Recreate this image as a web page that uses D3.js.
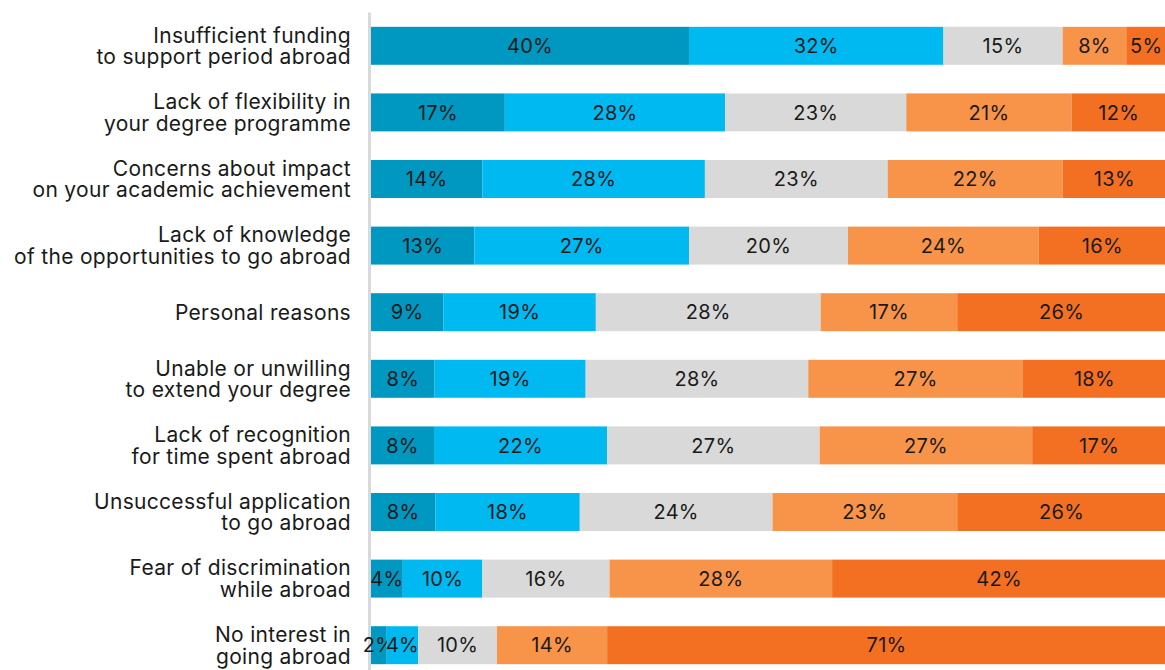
<!DOCTYPE html>
<html>
<head>
<meta charset="utf-8">
<script src="https://cdn.jsdelivr.net/npm/d3@7"></script>
<style>
  body { margin: 0; background: #fff; }
  svg { display: block; font-family: Inter, "Noto Sans", sans-serif; }
</style>
</head>
<body>
<div id="chart"></div>
<script>
// categories (two-line labels)
const categories = [
  ["Insufficient funding", "to support period abroad"],
  ["Lack of flexibility in", "your degree programme"],
  ["Concerns about impact", "on your academic achievement"],
  ["Lack of knowledge", "of the opportunities to go abroad"],
  ["Personal reasons"],
  ["Unable or unwilling", "to extend your degree"],
  ["Lack of recognition", "for time spent abroad"],
  ["Unsuccessful application", "to go abroad"],
  ["Fear of discrimination", "while abroad"],
  ["No interest in", "going abroad"]
];

// five response levels, one array each (percent)
const level1 = [40, 17, 14, 13, 9, 8, 8, 8, 4, 2];
const level2 = [32, 28, 28, 27, 19, 19, 22, 18, 10, 4];
const level3 = [15, 23, 23, 20, 28, 28, 27, 24, 16, 10];
const level4 = [8, 21, 22, 24, 17, 27, 27, 23, 28, 14];
const level5 = [5, 12, 13, 16, 26, 18, 17, 26, 42, 71];

const keys = ["l1", "l2", "l3", "l4", "l5"];
const colors = ["#0097c1", "#00b9f1", "#d9d9d9", "#f7944a", "#f36f22"];

const width = 1165, height = 670;
const margin = { top: 12.5, left: 371, right: 0, bottom: 0 };

// build rows, normalised so each bar fills the full width
const rows = categories.map((c, i) => {
  const vals = [level1[i], level2[i], level3[i], level4[i], level5[i]];
  const tot = d3.sum(vals);
  const r = { name: c.join(" "), lines: c, raw: vals };
  keys.forEach((k, j) => r[k] = vals[j] / tot);
  return r;
});

const svg = d3.select("#chart").append("svg")
  .attr("width", width)
  .attr("height", height);

const x = d3.scaleLinear().domain([0, 1]).range([margin.left, 1166]);
const y = d3.scaleBand()
  .domain(rows.map(d => d.name))
  .range([margin.top, margin.top + 666])
  .paddingInner(0.43)
  .paddingOuter(0.215);

const color = d3.scaleOrdinal().domain(keys).range(colors);

// vertical axis line
svg.append("line")
  .attr("x1", 369.5).attr("x2", 369.5)
  .attr("y1", margin.top).attr("y2", height)
  .attr("stroke", "#d9d9d9")
  .attr("stroke-width", 3);

const series = d3.stack().keys(keys)(rows);

const serie = svg.selectAll(".serie")
  .data(series)
  .join("g")
  .attr("class", "serie")
  .attr("fill", d => color(d.key));

serie.selectAll("rect")
  .data(d => d)
  .join("rect")
  .attr("x", d => x(d[0]))
  .attr("y", d => y(d.data.name))
  .attr("width", d => x(d[1]) - x(d[0]))
  .attr("height", y.bandwidth());

// value labels
serie.each(function (s, j) {
  d3.select(this).selectAll("text")
    .data(s)
    .join("text")
    .attr("x", d => (x(d[0]) + x(d[1])) / 2)
    .attr("y", d => y(d.data.name) + y.bandwidth() / 2)
    .attr("dy", "0.36em")
    .attr("text-anchor", "middle")
    .attr("fill", "#1a1a1a")
    .style("font-size", "20px")
    .style("letter-spacing", "0.3px")
    .text(d => d.data.raw[j] + "%");
});

// category labels
const labels = svg.selectAll(".cat")
  .data(rows)
  .join("text")
  .attr("class", "cat")
  .attr("text-anchor", "end")
  .attr("fill", "#1a1a1a")
  .style("font-size", "21px")
  .style("letter-spacing", "0.3px")
  .attr("transform", d => `translate(351,${y(d.name) + y.bandwidth() / 2})`);

labels.selectAll("tspan")
  .data(d => d.lines.map((t, i) => ({ t, i, n: d.lines.length })))
  .join("tspan")
  .attr("x", 0)
  .attr("y", d => (d.i - (d.n - 1) / 2) * 21.5)
  .attr("dy", "0.36em")
  .text(d => d.t);
</script>
</body>
</html>
